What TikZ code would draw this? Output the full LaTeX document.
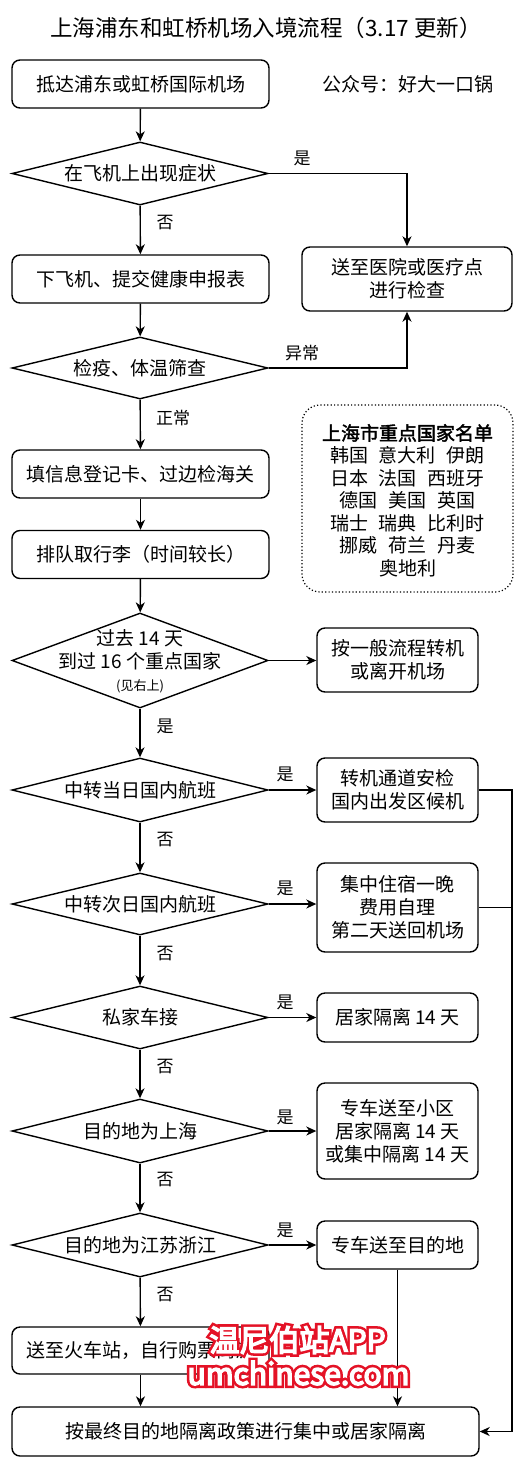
\documentclass[tikz,border=0pt]{standalone}
\usepackage{fontspec}
\setmainfont{Noto Sans CJK SC}[AutoFakeBold=2]
\newfontfamily\wmthick{Noto Sans CJK SC}[FakeBold=22]
\newfontfamily\wmthin{Noto Sans CJK SC}[FakeBold=5]
\usetikzlibrary{shapes.geometric,arrows.meta}
\definecolor{wmred}{RGB}{228,18,38}
\newcommand{\fsz}[1]{\fontsize{#1pt}{23pt}\selectfont}
\begin{document}
\begin{tikzpicture}[x=1pt,y=-1pt,
  line width=1.4pt,
  box/.style={draw, rounded corners=8pt, inner sep=0pt, align=center, font=\fsz{19}},
  mbox/.style={box, minimum width=257pt, minimum height=48pt},
  rbox/.style={box, minimum width=161pt},
  dia/.style={draw, diamond, inner sep=0pt, minimum width=256pt},
  txt/.style={inner sep=0pt, align=center, font=\fsz{19}},
  lbl/.style={inner sep=0pt, font=\fsz{17}},
  arr/.style={-{Stealth[length=10pt,width=9pt,inset=3pt]}},
  wmr/.style={inner sep=0pt, text=wmred, font=\wmthick\fontsize{30pt}{30pt}\selectfont},
  wmw/.style={inner sep=0pt, text=white, font=\wmthin\fontsize{30pt}{30pt}\selectfont}
]
\useasboundingbox (0,0) rectangle (524,1472);
\fill[white] (0,0) rectangle (524,1472);

\node[txt, font=\fsz{22.5}] (title) at (266,28) {上海浦东和虹桥机场入境流程（3.17 更新）};
\node[txt] (gzh) at (407.5,84) {公众号：好大一口锅};

% main column
\node[mbox] (b1) at (140.5,84) {抵达浦东或虹桥国际机场};
\node[dia, minimum height=63pt] (d1) at (140,173.5) {};
\node[txt] (d1t) at (d1) {在飞机上出现症状};
\node[mbox] (b2) at (140.5,279) {下飞机、提交健康申报表};
\node[dia, minimum height=62pt] (d2) at (140,368) {};
\node[txt] (d2t) at (d2) {检疫、体温筛查};
\node[mbox] (b3) at (140.5,474) {填信息登记卡、过边检海关};
\node[mbox] (b4) at (140.5,554.5) {排队取行李（时间较长）};
\node[dia, minimum height=95pt] (d3) at (140,660.5) {};
\node[txt] (d3t) at (140,650) {过去 14 天\\到过 16 个重点国家};
\node[txt, font=\fsz{13}] (d3s) at (140,686) {(见右上)};
\node[dia, minimum height=64pt] (d4) at (140,790) {};
\node[txt] (d4t) at (d4) {中转当日国内航班};
\node[dia, minimum height=62pt] (d5) at (140,904) {};
\node[txt] (d5t) at (d5) {中转次日国内航班};
\node[dia, minimum height=63pt] (d6) at (140,1017.5) {};
\node[txt] (d6t) at (d6) {私家车接};
\node[dia, minimum height=64pt] (d7) at (140,1131) {};
\node[txt] (d7t) at (d7) {目的地为上海};
\node[dia, minimum height=64pt] (d8) at (140,1245) {};
\node[txt] (d8t) at (d8) {目的地为江苏浙江};
\node[mbox, minimum height=47pt] (hc) at (140.5,1350.5) {送至火车站，自行购票离沪};
\node[box, minimum width=467pt, minimum height=49pt] (fin) at (245.5,1431.5) {按最终目的地隔离政策进行集中或居家隔离};

% right column
\node[box, minimum width=210pt, minimum height=64pt] (hosp) at (407,279) {送至医院或医疗点\\进行检查};
\node[draw, rounded corners=18pt, line width=1.2pt, dash pattern=on 1.2pt off 2.2pt,
      minimum width=211pt, minimum height=187pt] (list) at (407.5,498.5) {};
\node[txt, align=center] (listt) at (407.5,500.5) {{\bfseries 上海市重点国家名单}\\[-0.5pt]
  韩国\hspace{11pt}意大利\hspace{11pt}伊朗\\[-0.5pt]
  日本\hspace{11pt}法国\hspace{11pt}西班牙\\[-0.5pt]
  德国\hspace{11pt}美国\hspace{11pt}英国\\[-0.5pt]
  瑞士\hspace{11pt}瑞典\hspace{11pt}比利时\\[-0.5pt]
  挪威\hspace{11pt}荷兰\hspace{11pt}丹麦\\[-0.5pt]
  奥地利};
\node[rbox, minimum height=64pt] (ybl) at (397.5,660) {按一般流程转机\\或离开机场};
\node[rbox, minimum height=64pt] (zj) at (397.5,790) {转机通道安检\\国内出发区候机};
\node[rbox, minimum height=89pt] (jz) at (397.5,907.5) {集中住宿一晚\\费用自理\\第二天送回机场};
\node[rbox, minimum height=49pt] (jj) at (397.5,1017.5) {居家隔离 14 天};
\node[rbox, minimum height=96pt] (zx) at (397.5,1131) {专车送至小区\\居家隔离 14 天\\或集中隔离 14 天};
\node[rbox, minimum height=48pt] (zm) at (397.5,1245) {专车送至目的地};
\coordinate (rl) at (512,790);

% connectors main column
\draw[arr] (b1) -- (d1);
\draw[arr] (d1) -- (b2);
\draw[arr] (b2) -- (d2);
\draw[arr] (d2) -- (b3);
\draw[arr] (b3) -- (b4);
\draw[arr] (b4) -- (d3);
\draw[arr] (d3) -- (d4);
\draw[arr] (d4) -- (d5);
\draw[arr] (d5) -- (d6);
\draw[arr] (d6) -- (d7);
\draw[arr] (d7) -- (d8);
\draw[arr] (d8) -- (hc);
\draw[arr] (hc.south) -- (hc.south |- fin.north);

% connectors to right
\draw[arr] (d1.east) -| (hosp.north);
\draw[arr] (d2.east) -| (hosp.south);
\draw[arr] (d3.east) -- (d3.east -| ybl.west);
\draw[arr] (d4.east) -- (d4.east -| zj.west);
\draw[arr] (d5.east) -- (d5.east -| jz.west);
\draw[arr] (d6.east) -- (d6.east -| jj.west);
\draw[arr] (d7.east) -- (d7.east -| zx.west);
\draw[arr] (d8.east) -- (d8.east -| zm.west);
\draw[arr] (zm.south) -- (zm.south |- fin.north);
\draw[arr] (zj.east) -- (rl) |- (fin.east);
\draw (jz.east) -- (jz.east -| rl);

% labels
\node[lbl] (l1) at (302,158) {是};
\node[lbl] (l2) at (165,223) {否};
\node[lbl] (l3) at (302,353) {异常};
\node[lbl] (l4) at (173,418) {正常};
\node[lbl] (l5) at (165,726) {是};
\node[lbl] (l6) at (285,774) {是};
\node[lbl] (l7) at (165,840) {否};
\node[lbl] (l8) at (285,888) {是};
\node[lbl] (l9) at (165,954) {否};
\node[lbl] (l10) at (285,1002) {是};
\node[lbl] (l11) at (165,1067) {否};
\node[lbl] (l12) at (285,1117) {是};
\node[lbl] (l13) at (165,1180) {否};
\node[lbl] (l14) at (285,1230) {是};
\node[lbl] (l15) at (165,1295) {否};

% watermark
\node[wmr] (wm1r) at (297.5,1340) {温尼伯站APP};
\node[wmr] (wm2r) at (298.5,1373) {umchinese.com};
\node[wmw] (wm1) at (297.5,1340) {温尼伯站APP};
\node[wmw] (wm2) at (298.5,1373) {umchinese.com};
\end{tikzpicture}
\end{document}
